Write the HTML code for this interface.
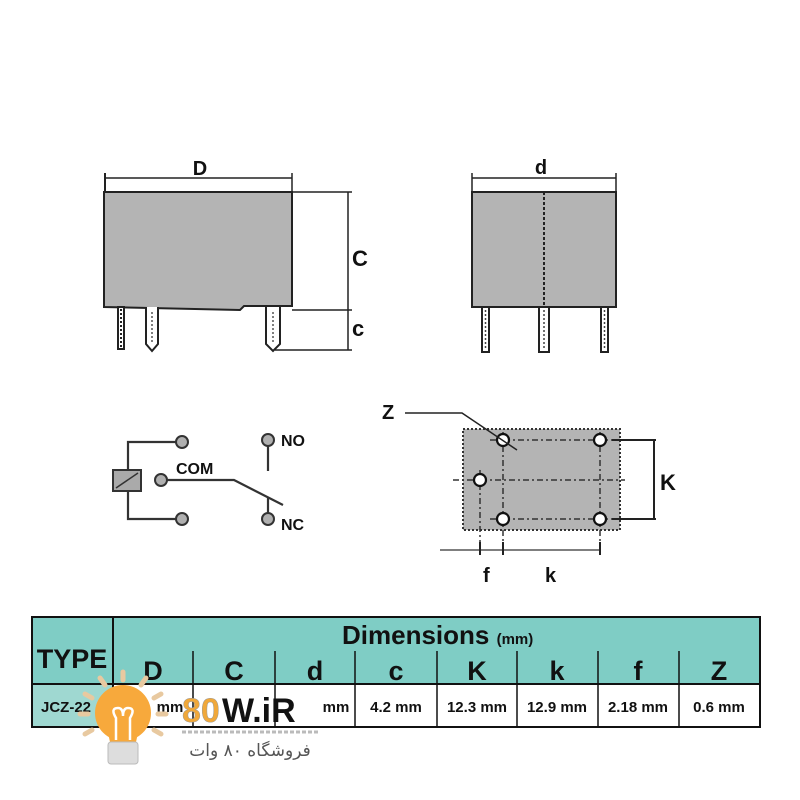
<!DOCTYPE html>
<html><head><meta charset="utf-8"><style>
html,body{margin:0;padding:0;background:#fff}
svg{display:block}
text{font-family:"Liberation Sans",Arial,sans-serif;font-weight:bold;fill:#111}
.n{font-family:"Liberation Sans Narrow","Liberation Sans",sans-serif}
</style></head><body>
<svg width="800" height="800" viewBox="0 0 800 800" xmlns="http://www.w3.org/2000/svg">
<text x="200" y="175" font-size="20" text-anchor="middle">D</text>
<line x1="105" y1="178" x2="292" y2="178" stroke="#222" stroke-width="1.5"/>
<line x1="105" y1="173" x2="105" y2="192" stroke="#222" stroke-width="2"/>
<line x1="292" y1="173" x2="292" y2="192" stroke="#222" stroke-width="1.5"/>
<path d="M104,192 L292,192 L292,306 L244,306 L240,310 L104,307 Z" fill="#b4b4b4" stroke="#222" stroke-width="2"/>
<line x1="292" y1="192" x2="352" y2="192" stroke="#222" stroke-width="1.5"/>
<line x1="292" y1="310" x2="352" y2="310" stroke="#222" stroke-width="1.5"/>
<line x1="275" y1="350" x2="352" y2="350" stroke="#222" stroke-width="1.5"/>
<line x1="348" y1="192" x2="348" y2="350" stroke="#222" stroke-width="1.5"/>
<text x="352" y="266" font-size="22">C</text>
<text x="352" y="336" font-size="22">c</text>
<rect x="118" y="307" width="6" height="42" fill="#fff" stroke="#222" stroke-width="2"/>
<line x1="121" y1="309" x2="121" y2="348" stroke="#222" stroke-width="2" stroke-dasharray="2 2"/>
<path d="M146,307 L146,344 L152,351 L158,344 L158,307" fill="#fff" stroke="#222" stroke-width="2"/>
<line x1="152" y1="312" x2="152" y2="344" stroke="#555" stroke-width="1.5" stroke-dasharray="2 2"/>
<path d="M266,307 L266,344 L273,351 L280,344 L280,307" fill="#fff" stroke="#222" stroke-width="2"/>
<line x1="273" y1="312" x2="273" y2="344" stroke="#555" stroke-width="1.5" stroke-dasharray="2 2"/>
<text x="541" y="174" font-size="20" text-anchor="middle">d</text>
<line x1="472" y1="178" x2="616" y2="178" stroke="#222" stroke-width="1.5"/>
<line x1="472" y1="173" x2="472" y2="192" stroke="#222" stroke-width="1.5"/>
<line x1="616" y1="173" x2="616" y2="192" stroke="#222" stroke-width="1.5"/>
<rect x="472" y="192" width="144" height="115" fill="#b4b4b4" stroke="#222" stroke-width="2"/>
<line x1="544" y1="192" x2="544" y2="307" stroke="#222" stroke-width="2" stroke-dasharray="3 2"/>
<rect x="482" y="307" width="7" height="45" fill="#fff" stroke="#222" stroke-width="2"/>
<line x1="485.5" y1="310" x2="485.5" y2="350" stroke="#444" stroke-width="1.5" stroke-dasharray="2 2"/>
<rect x="539" y="307" width="10" height="45" fill="#fff" stroke="#222" stroke-width="2"/>
<line x1="544" y1="310" x2="544" y2="350" stroke="#444" stroke-width="1.5" stroke-dasharray="2 2"/>
<rect x="601" y="307" width="7" height="45" fill="#fff" stroke="#222" stroke-width="2"/>
<line x1="604.5" y1="310" x2="604.5" y2="350" stroke="#444" stroke-width="1.5" stroke-dasharray="2 2"/>
<g stroke="#333" stroke-width="2.2" fill="none">
<polyline points="182,442 128,442 128,470"/>
<polyline points="182,519 128,519 128,491"/>
<polyline points="161,480 234,480 283,505"/>
<line x1="268" y1="440" x2="268" y2="471"/>
<line x1="268" y1="519" x2="268" y2="498"/>
</g>
<rect x="113" y="470" width="28" height="21" fill="#aaa" stroke="#333" stroke-width="2"/>
<line x1="116" y1="488" x2="138" y2="473" stroke="#333" stroke-width="1.5"/>
<g fill="#b0b0b0" stroke="#333" stroke-width="2">
<circle cx="182" cy="442" r="6"/><circle cx="182" cy="519" r="6"/>
<circle cx="161" cy="480" r="6"/><circle cx="268" cy="440" r="6"/><circle cx="268" cy="519" r="6"/>
</g>
<text x="176" y="474" font-size="16">COM</text>
<text x="281" y="446" font-size="16">NO</text>
<text x="281" y="530" font-size="16">NC</text>
<rect x="463" y="429" width="157" height="101" fill="#b4b4b4" stroke="#333" stroke-width="2" stroke-dasharray="2 2"/>
<g stroke="#333" stroke-width="1.5" stroke-dasharray="6 3 2 3" fill="none">
<line x1="490" y1="440" x2="612" y2="440"/>
<line x1="453" y1="480" x2="625" y2="480"/>
<line x1="490" y1="519" x2="612" y2="519"/>
<line x1="503" y1="432" x2="503" y2="550"/>
<line x1="600" y1="432" x2="600" y2="550"/>
<line x1="480" y1="470" x2="480" y2="550"/>
</g>
<g fill="#fff" stroke="#111" stroke-width="2.2">
<circle cx="503" cy="440" r="6"/><circle cx="600" cy="440" r="6"/><circle cx="480" cy="480" r="6"/>
<circle cx="503" cy="519" r="6"/><circle cx="600" cy="519" r="6"/>
</g>
<polyline points="405,413 462,413 517,450" fill="none" stroke="#222" stroke-width="1.5"/>
<text x="382" y="419" font-size="20">Z</text>
<g stroke="#222" stroke-width="2" fill="none">
<line x1="612" y1="440" x2="656" y2="440"/><line x1="612" y1="519" x2="656" y2="519"/>
<line x1="654" y1="440" x2="654" y2="519"/>
</g>
<text x="660" y="490" font-size="22">K</text>
<line x1="440" y1="550" x2="600" y2="550" stroke="#555" stroke-width="1.5"/>
<g stroke="#222" stroke-width="2"><line x1="480" y1="542" x2="480" y2="555"/><line x1="503" y1="542" x2="503" y2="555"/><line x1="600" y1="542" x2="600" y2="555"/></g>
<text x="483" y="582" font-size="20">f</text>
<text x="545" y="582" font-size="20">k</text>
<rect x="32" y="617" width="728" height="67" fill="#7fcdc5"/>
<rect x="32" y="684" width="728" height="43" fill="#fff"/>
<rect x="32" y="684" width="81" height="43" fill="#9fd8d1"/>
<g stroke="#111" stroke-width="2" fill="none">
<rect x="32" y="617" width="728" height="110"/>
<line x1="32" y1="684" x2="760" y2="684"/>
<line x1="113" y1="617" x2="113" y2="727"/>
</g>
<g stroke="#111" stroke-width="1.5">
<line x1="193" y1="651" x2="193" y2="727"/><line x1="275" y1="651" x2="275" y2="727"/>
<line x1="355" y1="651" x2="355" y2="727"/><line x1="437" y1="651" x2="437" y2="727"/>
<line x1="517" y1="651" x2="517" y2="727"/><line x1="598" y1="651" x2="598" y2="727"/>
<line x1="679" y1="651" x2="679" y2="727"/>
</g>
<text class="n" x="72" y="668" font-size="27" text-anchor="middle">TYPE</text>
<text class="n" x="342" y="644" font-size="26">Dimensions <tspan font-size="15">(mm)</tspan></text>
<g class="n" font-size="27" text-anchor="middle">
<text class="n" x="153" y="680">D</text><text class="n" x="234" y="680">C</text><text class="n" x="315" y="680">d</text>
<text class="n" x="396" y="680">c</text><text class="n" x="477" y="680">K</text><text class="n" x="557" y="680">k</text>
<text class="n" x="638" y="680">f</text><text class="n" x="719" y="680">Z</text>
</g>
<g font-size="15" text-anchor="middle">
<text class="n" x="66" y="712">JCZ-22</text>
<text class="n" x="396" y="712">4.2 mm</text><text class="n" x="477" y="712">12.3 mm</text><text class="n" x="557" y="712">12.9 mm</text>
<text class="n" x="638" y="712">2.18 mm</text><text class="n" x="719" y="712">0.6 mm</text>
<text class="n" x="170" y="712">mm</text><text class="n" x="336" y="712">mm</text>
</g>
<g stroke="#e8c9a0" stroke-width="5" stroke-linecap="round">
<line x1="123" y1="672" x2="123" y2="680"/><line x1="100" y1="678" x2="105" y2="685"/>
<line x1="146" y1="678" x2="141" y2="685"/><line x1="85" y1="694" x2="92" y2="698"/>
<line x1="161" y1="694" x2="154" y2="698"/><line x1="80" y1="714" x2="88" y2="714"/>
<line x1="166" y1="714" x2="158" y2="714"/><line x1="85" y1="734" x2="92" y2="730"/>
<line x1="161" y1="734" x2="154" y2="730"/>
</g>
<circle cx="123" cy="713" r="28" fill="#f7a93c"/>
<path d="M108,733 L138,733 L136,742 L110,742 Z" fill="#f7a93c"/>
<rect x="108" y="742" width="30" height="22" rx="3" fill="#ddd" stroke="#bbb"/>
<path d="M116,740 L116,718 Q110,708 118,708 Q123,708 123,716 Q123,708 128,708 Q136,708 130,718 L130,740" fill="none" stroke="#fff" stroke-width="2.5"/>
<text x="182" y="722" font-size="34" style="fill:#f0a83a;stroke:#999;stroke-width:0.5">80</text>
<text x="222" y="722" font-size="34" style="fill:#111">W.iR</text>
<line x1="182" y1="732" x2="318" y2="732" stroke="#bbb" stroke-width="3" stroke-dasharray="4 2"/>
<text x="250" y="756" font-size="17" text-anchor="middle" style="font-family:'DejaVu Sans',sans-serif;font-weight:normal;fill:#555">فروشگاه ۸۰ وات</text>
</svg>
</body></html>
